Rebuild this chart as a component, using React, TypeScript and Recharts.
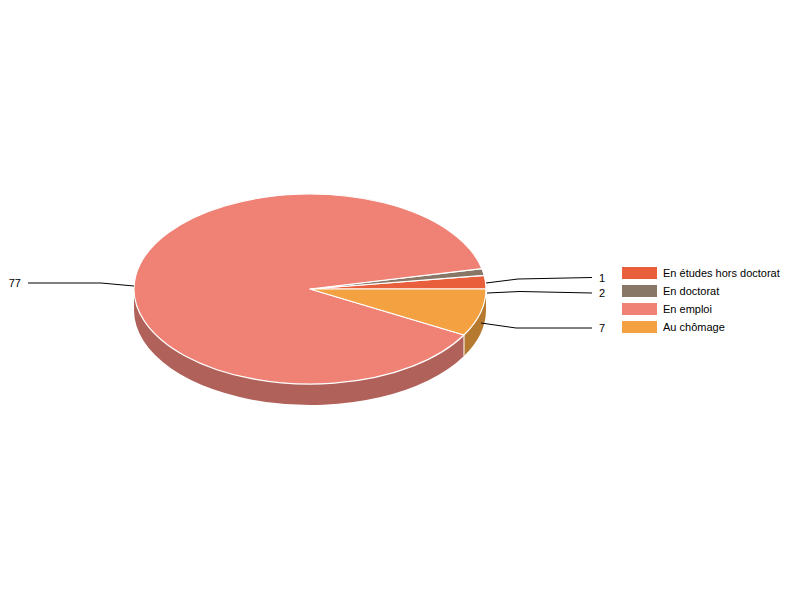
import React from "react";
import { PieChart, Pie, Legend, Cell } from "recharts";

const categories = ["En études hors doctorat", "En doctorat", "En emploi", "Au chômage"];
const values = [2, 1, 77, 7];
const colors = ["#EA5F3B", "#887667", "#EF8275", "#F4A142"];
const wallColors = ["#A34229", "#5F5248", "#B0625A", "#B57A30"];

const CX = 310;
const CY = 289;
const RX = 176;
const RY = 95;
const DEPTH = 21;

// Leader-line bends, as offsets from the pie centre, per slice
const leaders: number[][][] = [
  [[177, 4], [210, 2.5], [282, 4]],
  [[176, -6], [208, -10], [282, -11.5]],
  [[-176, -3], [-209, -6], [-282, -6]],
  [[171, 34], [206, 39], [282, 39]],
];

const data = categories.map((name, i) => ({ name, value: values[i] }));

const pt = (deg: number, dy = 0) => {
  const r = (deg * Math.PI) / 180;
  return [CX + RX * Math.cos(r), CY - RY * Math.sin(r) + dy];
};

function Slice(props: any) {
  const { startAngle, endAngle, fill, index } = props;
  const a = Math.min(startAngle, endAngle);
  const b = Math.max(startAngle, endAngle);
  const [x1, y1] = pt(a);
  const [x2, y2] = pt(b);
  const large = b - a > 180 ? 1 : 0;
  const w1 = Math.max(a, 180);
  const w2 = Math.min(b, 360);
  let wall = null;
  if (w2 > w1) {
    const [p1x, p1y] = pt(w1);
    const [p2x, p2y] = pt(w2);
    const d = `M${p1x},${p1y} A${RX},${RY} 0 0 0 ${p2x},${p2y} L${p2x},${p2y + DEPTH} A${RX},${RY} 0 0 1 ${p1x},${p1y + DEPTH} Z`;
    wall = (
      <g>
        <path d={d} fill={wallColors[index]} stroke="none" />
        {w1 > 180 ? <line x1={p1x} y1={p1y} x2={p1x} y2={p1y + DEPTH} stroke="#fff" strokeWidth={1} /> : null}
      </g>
    );
  }
  return (
    <g>
      {wall}
      <path
        d={`M${CX},${CY} L${x1},${y1} A${RX},${RY} 0 ${large} 0 ${x2},${y2} Z`}
        fill={fill}
        stroke="#fff"
        strokeWidth={1.2}
        strokeLinejoin="round"
      />
    </g>
  );
}

function SliceLabel(props: any) {
  const { index, value } = props;
  const pts = leaders[index];
  const poly = pts.map(([x, y]) => `${CX + x},${CY + y}`).join(" ");
  const last = pts[pts.length - 1];
  const left = last[0] < 0;
  return (
    <g>
      <polyline points={poly} fill="none" stroke="#000" strokeWidth={1} />
      <text
        x={CX + last[0] + (left ? -7 : 7)}
        y={CY + last[1]}
        textAnchor={left ? "end" : "start"}
        dominantBaseline="central"
        fontFamily="'Liberation Sans', Arial, sans-serif"
        fontSize={11}
        fill="#000"
      >
        {value}
      </text>
    </g>
  );
}

function LegendBox() {
  return (
    <div style={{ position: "relative", width: 170 }}>
      {categories.map((c, i) => (
        <div key={c} style={{ display: "flex", alignItems: "center", height: 18 }}>
          <span style={{ display: "block", width: 35, height: 12, background: colors[i], marginRight: 6 }} />
          <span style={{ fontFamily: "'Liberation Sans', Arial, sans-serif", fontSize: 11, color: "#000", whiteSpace: "nowrap" }}>
            {c}
          </span>
        </div>
      ))}
    </div>
  );
}

export default function App() {
  return (
    <div style={{ position: "absolute", left: 0, top: 0, width: 800, height: 600, background: "#fff" }}>
      <PieChart width={800} height={600} margin={{ top: 0, right: 0, bottom: 0, left: 0 }}>
        <Pie
          data={data}
          dataKey="value"
          nameKey="name"
          cx={CX}
          cy={CY}
          outerRadius={RX}
          startAngle={0}
          endAngle={360}
          paddingAngle={0}
          shape={Slice}
          label={SliceLabel}
          labelLine={false}
          isAnimationActive={false}
        >
          {data.map((d, i) => (
            <Cell key={d.name} fill={colors[i]} />
          ))}
        </Pie>
        <Legend content={LegendBox} wrapperStyle={{ position: "absolute", left: 622, top: 264, width: 170, bottom: "auto", right: "auto" }} />
      </PieChart>
    </div>
  );
}
